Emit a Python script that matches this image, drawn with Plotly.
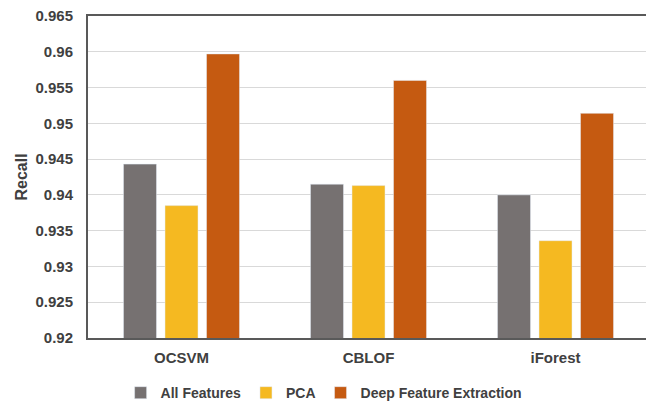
import plotly.graph_objects as go

categories = ["OCSVM", "CBLOF", "iForest"]
all_features = [0.9443, 0.9415, 0.9400]
pca = [0.9385, 0.9413, 0.9336]
deep_features = [0.9597, 0.9560, 0.9514]
y_ticks = [0.92, 0.925, 0.93, 0.935, 0.94, 0.945, 0.95, 0.955, 0.96, 0.965]
y_tick_labels = ["0.92", "0.925", "0.93", "0.935", "0.94", "0.945", "0.95", "0.955", "0.96", "0.965"]

font_family = "Liberation Sans, Arial, sans-serif"
text_color = "#404040"

fig = go.Figure()
fig.add_trace(go.Bar(name="All Features", x=categories, y=all_features, marker_color="#767171"))
fig.add_trace(go.Bar(name="PCA", x=categories, y=pca, marker_color="#F5B921"))
fig.add_trace(go.Bar(name="Deep Feature Extraction", x=categories, y=deep_features, marker_color="#C55A11"))

# page body has an 8px default margin, so the figure is 8px smaller with margins shifted
fig.update_layout(
    width=646, height=398,
    margin=dict(l=80, r=5, t=8, b=68, autoexpand=False),
    paper_bgcolor="white", plot_bgcolor="white",
    barmode="group", bargap=0.334, bargroupgap=0.205,
    font=dict(family=font_family, color=text_color),
    legend=dict(orientation="h", x=0.42, xanchor="center", y=-0.171, yanchor="middle",
                font=dict(size=14, family=font_family, color=text_color, weight="bold"),
                itemwidth=30, traceorder="normal"),
    showlegend=True,
)
fig.update_yaxes(
    range=[0.92, 0.965], tickvals=y_ticks, ticktext=y_tick_labels,
    showgrid=True, gridcolor="#d9d9d9", gridwidth=1,
    showline=True, linecolor="#595959", linewidth=2, mirror=True,
    ticks="", ticklabelstandoff=10, automargin=False, ticklabeloverflow="allow",
    tickfont=dict(size=15, family=font_family, color=text_color, weight="bold"),
    title=dict(text="<b>Recall</b>", font=dict(size=16, family=font_family, color=text_color), standoff=4),
    zeroline=False,
)
fig.update_xaxes(
    showline=True, linecolor="#595959", linewidth=2, mirror=True,
    ticks="", ticklabelstandoff=5, automargin=False,
    tickfont=dict(size=15, family=font_family, color=text_color, weight="bold"),
)

fig.write_html("out.html")
